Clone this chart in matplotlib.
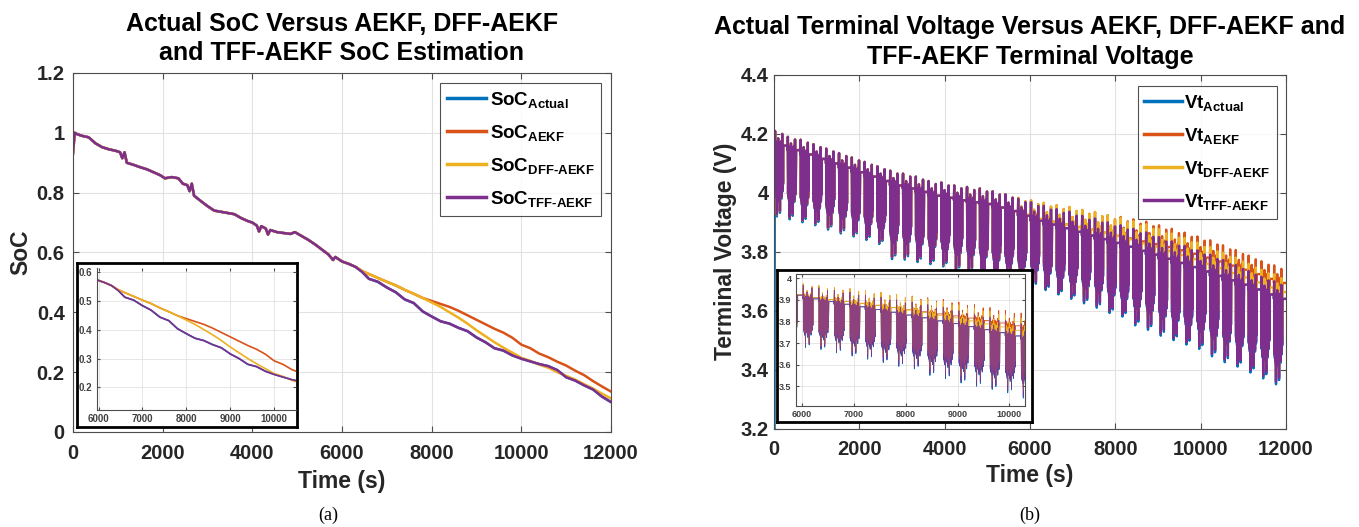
import matplotlib
matplotlib.use("Agg")
import matplotlib.pyplot as plt

plt.rcParams['font.family'] = ['Liberation Sans', 'DejaVu Sans']
plt.rcParams['mathtext.fontset'] = 'custom'
plt.rcParams['mathtext.rm'] = 'Liberation Sans:bold'
plt.rcParams['mathtext.bf'] = 'Liberation Sans:bold'
plt.rcParams['mathtext.it'] = 'Liberation Sans:bold'

# MATLAB default line colours
c_actual = "#0072BD"
c_aekf = "#D95319"
c_dff = "#EDB120"
c_tff = "#7E2F8E"

# ---------------- SoC data ----------------
soc_time_common = [0, 40, 100, 200, 350, 500, 650, 800, 950, 1050, 1100, 1150, 1200, 1350, 1500,
                   1650, 1800, 1950, 2050, 2200, 2350, 2450, 2550, 2600, 2650, 2700, 2850, 3000,
                   3150, 3300, 3450, 3600, 3750, 3900, 4000, 4100, 4150, 4200, 4300, 4350, 4400,
                   4550, 4700, 4850, 4950, 5100, 5250, 5400, 5550, 5700, 5800, 5850, 6000, 6150, 6300]
soc_common = [1.000, 1.000, 0.995, 0.990, 0.985, 0.965, 0.952, 0.945, 0.940, 0.935, 0.915, 0.935,
              0.900, 0.893, 0.885, 0.878, 0.868, 0.858, 0.848, 0.852, 0.848, 0.830, 0.825, 0.805,
              0.830, 0.790, 0.772, 0.755, 0.740, 0.736, 0.732, 0.728, 0.715, 0.705, 0.700, 0.690,
              0.670, 0.688, 0.680, 0.660, 0.675, 0.668, 0.665, 0.662, 0.668, 0.655, 0.642, 0.627,
              0.610, 0.593, 0.575, 0.585, 0.570, 0.562, 0.552]
soc_est_start = 0.93

soc_time_tail = [6450, 6600, 6800, 7000, 7200, 7400, 7600, 7800, 8000, 8200, 8400, 8600, 8800,
                 9000, 9200, 9400, 9600, 9800, 10000, 10200, 10400, 10600, 10800, 11000, 11200,
                 11400, 11600, 11800, 12000]
soc_actual_tail = [0.535, 0.512, 0.502, 0.483, 0.467, 0.443, 0.431, 0.403, 0.386, 0.370, 0.362,
                   0.348, 0.337, 0.316, 0.300, 0.280, 0.272, 0.256, 0.245, 0.236, 0.227, 0.220,
                   0.207, 0.183, 0.172, 0.156, 0.142, 0.118, 0.100]
soc_dff_tail = [0.538, 0.528, 0.515, 0.502, 0.490, 0.475, 0.462, 0.448, 0.433, 0.418, 0.400,
                0.382, 0.362, 0.340, 0.320, 0.300, 0.282, 0.265, 0.248, 0.238, 0.225, 0.215,
                0.200, 0.188, 0.175, 0.160, 0.145, 0.128, 0.112]
soc_aekf_tail = [0.538, 0.528, 0.515, 0.502, 0.490, 0.475, 0.462, 0.448, 0.438, 0.428, 0.418,
                 0.405, 0.390, 0.375, 0.360, 0.345, 0.332, 0.315, 0.292, 0.280, 0.262, 0.250,
                 0.235, 0.222, 0.205, 0.190, 0.170, 0.152, 0.135]

# ---------------- Terminal voltage data (one entry per pulse cycle) ----------------
cycle_period = 300
cycle_offset = 20
vt_peak = [4.21, 4.19, 4.18, 4.165, 4.15, 4.135, 4.12, 4.105, 4.09, 4.075, 4.065, 4.055, 4.04,
           4.035, 4.025, 4.02, 4.015, 4.005, 3.995, 3.98, 3.968, 3.956, 3.945, 3.936, 3.922,
           3.913, 3.90, 3.89, 3.878, 3.866, 3.85, 3.835, 3.82, 3.805, 3.79, 3.772, 3.755, 3.735,
           3.715, 3.70]
vt_top = [4.16, 4.145, 4.13, 4.115, 4.10, 4.085, 4.07, 4.055, 4.04, 4.025, 4.015, 4.003, 3.99,
          3.983, 3.975, 3.968, 3.962, 3.95, 3.938, 3.922, 3.905, 3.892, 3.88, 3.868, 3.855,
          3.843, 3.83, 3.817, 3.803, 3.79, 3.776, 3.762, 3.748, 3.733, 3.718, 3.703, 3.688,
          3.672, 3.655, 3.64]
vt_low = [3.92, 3.91, 3.90, 3.89, 3.875, 3.862, 3.852, 3.84, 3.826, 3.775, 3.773, 3.765, 3.758,
          3.75, 3.735, 3.728, 3.72, 3.71, 3.70, 3.69, 3.68, 3.67, 3.655, 3.64, 3.625, 3.61,
          3.592, 3.58, 3.55, 3.535, 3.515, 3.50, 3.485, 3.47, 3.445, 3.425, 3.41, 3.39, 3.37,
          3.35]
vt_dff_shift = [0] * 19 + [0.003, 0.006, 0.010, 0.013, 0.016, 0.020, 0.022, 0.024, 0.025,
                           0.026, 0.027, 0.027, 0.027, 0.027, 0.026, 0.026, 0.025, 0.025,
                           0.024, 0.024, 0.023]
vt_aekf_shift = [0] * 19 + [0.003, 0.006, 0.010, 0.013, 0.016, 0.020, 0.022, 0.024, 0.028,
                            0.032, 0.036, 0.040, 0.043, 0.045, 0.047, 0.049, 0.050, 0.051,
                            0.052, 0.053, 0.054]
vt_no_shift = [0] * 40
# shape of one current-pulse cycle: negative = spike above rest level, positive = dip depth
pulse_phase = [0.00, 0.02, 0.04, 0.06, 0.08, 0.10, 0.12, 0.14, 0.16, 0.18, 0.20, 0.22, 0.24,
               0.26, 0.28, 0.30, 0.32, 0.34, 0.36, 0.38, 0.40, 0.42, 0.44, 0.46, 0.48, 0.50,
               0.52, 0.54, 0.56, 0.58, 0.60, 0.62, 0.64, 0.66, 1.00]
pulse_depth = [0.0, -1.0, 0.65, -0.3, 0.7, -0.1, 0.75, 0.05, 1.0, -0.2, 0.7, 0.0, 0.65, -0.5,
               0.75, 0.05, 0.8, -0.2, 0.7, 0.1, 0.95, -0.1, 0.65, 0.05, 0.7, -0.3, 0.75, 0.1,
               0.6, -0.8, 0.65, 0.0, 0.55, 0.0, 0.0]
vt_actual_start = [3.19, 4.0]

soc_ticks = [0, 0.2, 0.4, 0.6, 0.8, 1.0, 1.2]
soc_ticklabels = ["0", "0.2", "0.4", "0.6", "0.8", "1", "1.2"]
vt_ticks = [3.2, 3.4, 3.6, 3.8, 4.0, 4.2, 4.4]
vt_ticklabels = ["3.2", "3.4", "3.6", "3.8", "4", "4.2", "4.4"]
time_ticks = [0, 2000, 4000, 6000, 8000, 10000, 12000]
inset_time_ticks = [6000, 7000, 8000, 9000, 10000]
inset_soc_ticks = [0.2, 0.3, 0.4, 0.5, 0.6]
inset_vt_ticks = [3.5, 3.6, 3.7, 3.8, 3.9, 4.0]
inset_vt_ticklabels = ["3.5", "3.6", "3.7", "3.8", "3.9", "4"]


def build_vt(top, peak, low, shift, tail=1.0):
    """Repeats the pulse shape once per cycle using that cycle's levels."""
    t, v = [], []
    for k in range(len(top)):
        t0 = cycle_offset + k * cycle_period
        for ph, d in zip(pulse_phase, pulse_depth):
            t.append(t0 + ph * cycle_period)
            if d < 0:
                v.append(top[k] + shift[k] - d * (peak[k] - top[k]))
            else:
                v.append(top[k] + shift[k] - d * tail * (top[k] - low[k]))
    return t, v


def style_axes(ax, fs, grid_lw=0.8):
    ax.grid(True, color="#e2e2e2", lw=grid_lw)
    ax.set_axisbelow(True)
    ax.tick_params(direction="in", top=True, right=True, length=4, width=0.8,
                   color="#4d4d4d", labelcolor="#262626", labelsize=fs)
    for s in ax.spines.values():
        s.set_color("#4d4d4d")
        s.set_linewidth(0.8)


def inset_frame(rect):
    box = fig.add_axes(rect)
    box.set_xticks([])
    box.set_yticks([])
    for s in box.spines.values():
        s.set_color("black")
        s.set_linewidth(2.0)
    return box


soc_time = soc_time_common + soc_time_tail
soc_actual = soc_common + soc_actual_tail
soc_tff = [soc_est_start] + soc_common[1:] + soc_actual_tail
soc_dff = [soc_est_start] + soc_common[1:] + soc_dff_tail
soc_aekf = [soc_est_start] + soc_common[1:] + soc_aekf_tail

t_act, v_act = build_vt(vt_top, vt_peak, vt_low, vt_no_shift)
t_act = [15, 18] + t_act
v_act = vt_actual_start + v_act
t_tff, v_tff = build_vt(vt_top, vt_peak, vt_low, vt_no_shift, tail=0.97)
t_dff, v_dff = build_vt(vt_top, vt_peak, vt_low, vt_dff_shift, tail=0.97)
t_aekf, v_aekf = build_vt(vt_top, vt_peak, vt_low, vt_aekf_shift, tail=0.97)

fig = plt.figure(figsize=(13.59, 5.27), dpi=100)

# ---------------- (a) SoC ----------------
ax1 = fig.add_axes([0.0537, 0.1803, 0.3959, 0.6812])
ax1.plot(soc_time, soc_actual, color=c_actual, lw=1.8, label=r"SoC$_{\mathrm{Actual}}$")
ax1.plot(soc_time, soc_aekf, color=c_aekf, lw=1.8, label=r"SoC$_{\mathrm{AEKF}}$")
ax1.plot(soc_time, soc_dff, color=c_dff, lw=1.8, label=r"SoC$_{\text{DFF-AEKF}}$")
ax1.plot(soc_time, soc_tff, color=c_tff, lw=1.8, label=r"SoC$_{\text{TFF-AEKF}}$")
ax1.set_xlim(0, 12000)
ax1.set_ylim(0, 1.2)
ax1.set_xticks(time_ticks, [str(t) for t in time_ticks], fontweight="bold")
ax1.set_yticks(soc_ticks, soc_ticklabels, fontweight="bold")
style_axes(ax1, 14.5)
ax1.tick_params(axis="x", pad=9)
ax1.tick_params(axis="y", pad=6)
ax1.set_xlabel("Time (s)", fontsize=16.5, fontweight="bold", color="#262626", labelpad=5)
ax1.set_ylabel("SoC", fontsize=16.5, fontweight="bold", color="#262626", labelpad=3)
ax1.set_title("Actual SoC Versus AEKF, DFF-AEKF\nand TFF-AEKF SoC Estimation",
              fontsize=18, fontweight="bold", pad=9, linespacing=1.3)
leg1 = ax1.legend(loc="upper right", bbox_to_anchor=(601 / 1359, 1 - 83 / 527),
                  bbox_transform=fig.transFigure, borderaxespad=0, fancybox=False,
                  edgecolor="#262626", prop={"weight": "bold", "size": 13.5},
                  handlelength=2.1, handletextpad=0.2, labelspacing=0.7, borderpad=0.35)
leg1.get_frame().set_linewidth(0.8)
for line in leg1.get_lines():
    line.set_linewidth(2.5)

box1 = inset_frame([0.0567, 0.1898, 0.1619, 0.3112])
in1 = fig.add_axes([0.0712, 0.2220, 0.1467, 0.2694])
in1.plot(soc_time, soc_actual, color=c_actual, lw=1.2)
in1.plot(soc_time, soc_aekf, color=c_aekf, lw=1.2)
in1.plot(soc_time, soc_dff, color=c_dff, lw=1.2)
in1.plot(soc_time, soc_tff, color=c_tff, lw=1.2)
in1.set_xlim(5960, 10500)
in1.set_ylim(0.122, 0.613)
in1.set_xticks(inset_time_ticks, [str(t) for t in inset_time_ticks], fontweight="bold")
in1.set_yticks(inset_soc_ticks, [str(v) for v in inset_soc_ticks], fontweight="bold")
style_axes(in1, 7, grid_lw=0.6)
in1.tick_params(length=2, labelcolor="#404040", pad=3)
in1.spines["top"].set_visible(False)
in1.spines["right"].set_visible(False)

# ---------------- (b) Terminal voltage ----------------
ax2 = fig.add_axes([0.5695, 0.1869, 0.3767, 0.6708])
ax2.plot(t_act, v_act, color=c_actual, lw=1.7, label=r"Vt$_{\mathrm{Actual}}$")
ax2.plot(t_aekf, v_aekf, color=c_aekf, lw=1.7, label=r"Vt$_{\mathrm{AEKF}}$")
ax2.plot(t_dff, v_dff, color=c_dff, lw=1.7, label=r"Vt$_{\text{DFF-AEKF}}$")
ax2.plot(t_tff, v_tff, color=c_tff, lw=1.7, label=r"Vt$_{\text{TFF-AEKF}}$")
ax2.set_xlim(0, 12000)
ax2.set_ylim(3.2, 4.4)
ax2.set_xticks(time_ticks, [str(t) for t in time_ticks], fontweight="bold")
ax2.set_yticks(vt_ticks, vt_ticklabels, fontweight="bold")
style_axes(ax2, 14.5)
ax2.tick_params(axis="x", pad=8)
ax2.tick_params(axis="y", pad=4)
ax2.set_xlabel("Time (s)", fontsize=16.5, fontweight="bold", color="#262626", labelpad=4)
ax2.set_ylabel("Terminal Voltage (V)", fontsize=16.5, fontweight="bold", color="#262626",
               labelpad=2)
ax2.set_title("Actual Terminal Voltage Versus AEKF, DFF-AEKF and\nTFF-AEKF Terminal Voltage",
              fontsize=18, fontweight="bold", pad=8, linespacing=1.3)
leg2 = ax2.legend(loc="upper right", bbox_to_anchor=(1277 / 1359, 1 - 86 / 527),
                  bbox_transform=fig.transFigure, borderaxespad=0, fancybox=False,
                  edgecolor="#262626", prop={"weight": "bold", "size": 13.5},
                  handlelength=2.0, handletextpad=0.15, labelspacing=0.7, borderpad=0.35)
leg2.get_frame().set_linewidth(0.8)
for line in leg2.get_lines():
    line.set_linewidth(2.5)

box2 = inset_frame([0.5717, 0.1992, 0.1876, 0.2884])
in2 = fig.add_axes([0.5855, 0.2302, 0.1687, 0.2499])
in2.plot(t_act, v_act, color=c_actual, lw=0.6)
in2.plot(t_aekf, v_aekf, color=c_aekf, lw=0.6)
in2.plot(t_dff, v_dff, color=c_dff, lw=0.6)
in2.plot(t_tff, v_tff, color=c_tff, lw=0.6, alpha=0.85)
in2.set_xlim(5880, 10300)
in2.set_ylim(3.41, 4.02)
in2.set_xticks(inset_time_ticks, [str(t) for t in inset_time_ticks], fontweight="bold")
in2.set_yticks(inset_vt_ticks, inset_vt_ticklabels, fontweight="bold")
style_axes(in2, 6.5, grid_lw=0.6)
in2.tick_params(length=2, labelcolor="#404040", pad=3)

fig.text(328 / 1359, 1 - 515 / 527, "(a)", family="Liberation Serif", fontsize=13,
         ha="center", va="center")
fig.text(1030 / 1359, 1 - 515 / 527, "(b)", family="Liberation Serif", fontsize=13,
         ha="center", va="center")

fig.savefig("out.png", dpi=100, facecolor="white")
